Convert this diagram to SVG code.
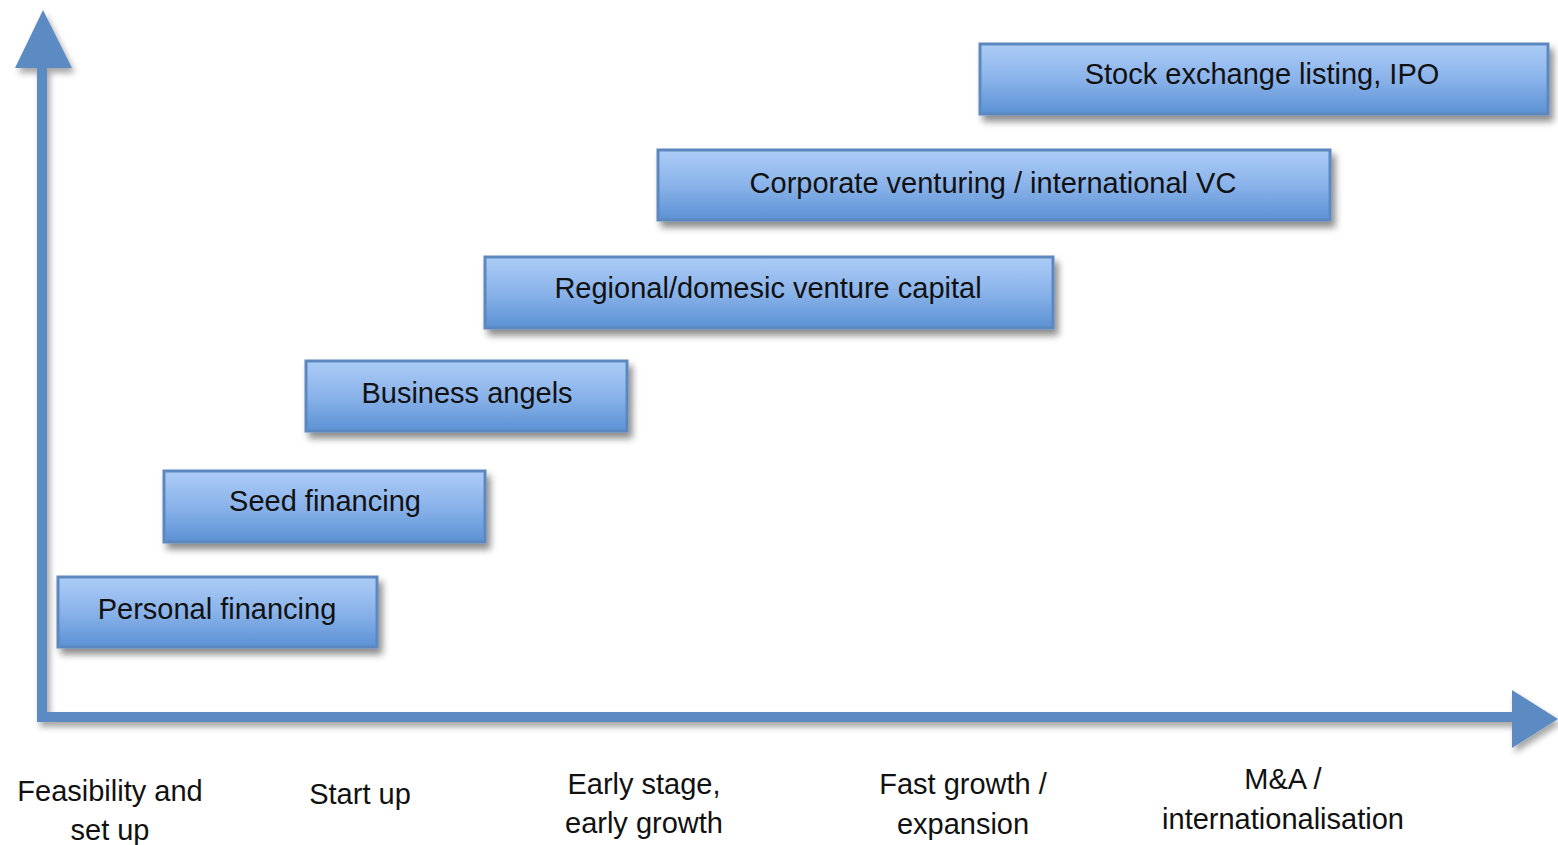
<svg xmlns="http://www.w3.org/2000/svg" width="1558" height="845" viewBox="0 0 1558 845">
<defs>
<linearGradient id="g" x1="0" y1="0" x2="0" y2="1">
<stop offset="0" stop-color="#acccf6"/>
<stop offset="0.5" stop-color="#8ab3ea"/>
<stop offset="1" stop-color="#5b91d3"/>
</linearGradient>
<filter id="sh" x="-10%" y="-30%" width="130%" height="170%">
<feDropShadow dx="4" dy="6" stdDeviation="3.5" flood-color="#000" flood-opacity="0.45"/>
</filter>
<filter id="ash" x="-10%" y="-10%" width="130%" height="130%">
<feDropShadow dx="3" dy="5" stdDeviation="3" flood-color="#000" flood-opacity="0.35"/>
</filter>
</defs>
<style>
.box{fill:url(#g);stroke:#5d88bf;stroke-width:3;filter:url(#sh)}
.t{font-family:"Liberation Sans",Arial,sans-serif;font-size:29px;fill:#111;text-anchor:middle}
.ax{fill:#5b8bc4}
</style>
<rect width="1558" height="845" fill="#fff"/>
<g id="axes" filter="url(#ash)">
<rect class="ax" x="37" y="64" width="10" height="658"/>
<polygon class="ax" points="43,10 72,68 15,68"/>
<rect class="ax" x="37" y="712" width="1477" height="10"/>
<polygon class="ax" points="1512,690 1558,719 1512,748"/>
</g>
<g id="n6"><rect class="box" x="58" y="577" width="319" height="70"/><text class="t" x="217" y="619">Personal financing</text></g>
<g id="n5"><rect class="box" x="164" y="471" width="321" height="71"/><text class="t" x="325" y="511">Seed financing</text></g>
<g id="n4"><rect class="box" x="306" y="361" width="321" height="70"/><text class="t" x="467" y="403">Business angels</text></g>
<g id="n3"><rect class="box" x="485" y="257" width="568" height="71"/><text class="t" x="768" y="298">Regional/domesic venture capital</text></g>
<g id="n2"><rect class="box" x="658" y="150" width="672" height="70"/><text class="t" x="993" y="193">Corporate venturing / international VC</text></g>
<g id="n1"><rect class="box" x="980" y="44" width="568" height="70"/><text class="t" x="1262" y="84">Stock exchange listing, IPO</text></g>
<g id="labels">
<text class="t" x="110" y="801">Feasibility and</text>
<text class="t" x="110" y="840">set up</text>
<text class="t" x="360" y="804">Start up</text>
<text class="t" x="644" y="794">Early stage,</text>
<text class="t" x="644" y="833">early growth</text>
<text class="t" x="963" y="794">Fast growth /</text>
<text class="t" x="963" y="834">expansion</text>
<text class="t" x="1283" y="789">M&amp;A /</text>
<text class="t" x="1283" y="829">internationalisation</text>
</g>
</svg>
